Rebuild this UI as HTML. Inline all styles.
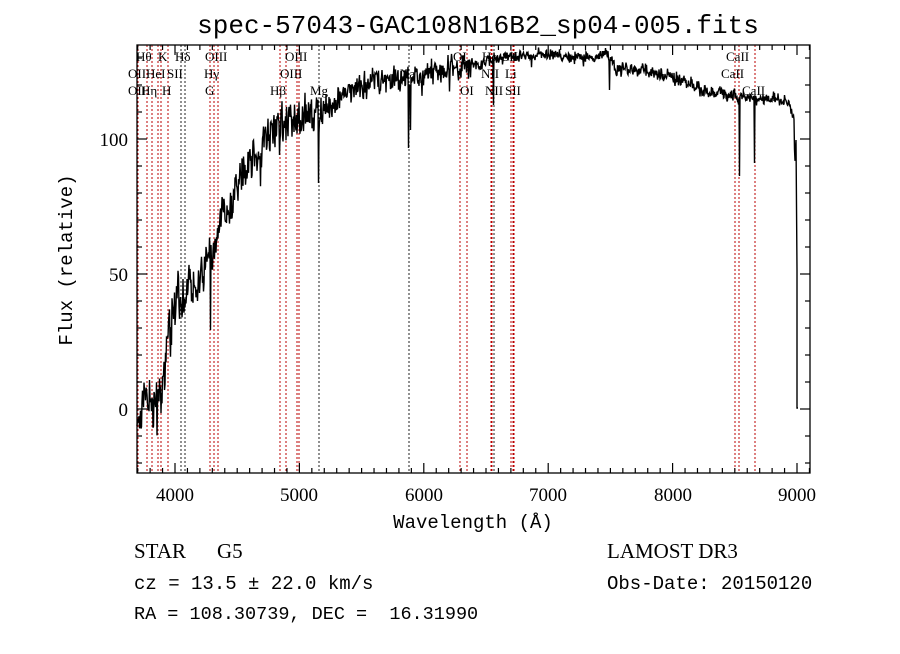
<!DOCTYPE html>
<html><head><meta charset="utf-8"><style>
body{margin:0;background:#fff;width:900px;height:649px;overflow:hidden}
svg text{font-family:"Liberation Serif",serif;fill:#000}
svg text.m{font-family:"Liberation Mono",monospace}
</style></head><body>
<svg id="s" width="900" height="649" xmlns="http://www.w3.org/2000/svg">
<text class="m" x="478" y="33" font-size="26" text-anchor="middle">spec-57043-GAC108N16B2_sp04-005.fits</text>
<g id="lines"></g>
<polyline id="spec" fill="none" stroke="#000" stroke-width="1.4"/>
<rect x="137" y="45" width="673" height="428" fill="none" stroke="#000" stroke-width="1.3"/>
<g id="ticks" stroke="#000" stroke-width="1.2"></g>
<g font-size="19" text-anchor="middle">
<text x="175" y="501">4000</text><text x="299" y="501">5000</text><text x="424" y="501">6000</text><text x="548" y="501">7000</text><text x="673" y="501">8000</text><text x="797" y="501">9000</text>
</g>
<g font-size="19" text-anchor="end">
<text x="128" y="146">100</text><text x="128" y="281">50</text><text x="128" y="416">0</text>
</g>
<text class="m" x="473" y="528" font-size="19" text-anchor="middle">Wavelength (Å)</text>
<text class="m" transform="translate(72,260) rotate(-90)" font-size="19" text-anchor="middle">Flux (relative)</text>
<g font-size="13">
<text x="136" y="61">Hθ</text><text x="158" y="61">K</text><text x="175" y="61">Hδ</text><text x="205" y="61">OIII</text><text x="285" y="61">OIII</text>
<text x="128" y="78">OII</text><text x="146" y="78">HeI</text><text x="167" y="78">SII</text><text x="204" y="78">Hγ</text><text x="280" y="78">OIII</text>
<text x="128" y="95">OII</text><text x="141" y="95">Hη</text><text x="162" y="95">H</text><text x="205" y="95">G</text><text x="270" y="95">Hβ</text><text x="310" y="95">Mg</text><text x="400" y="78">Na</text>
<text x="453" y="61">OI</text><text x="482" y="61">Hα</text><text x="502" y="61">SII</text><text x="481" y="78">NII</text><text x="505" y="78">Li</text>
<text x="460" y="95">OI</text><text x="485" y="95">NII</text><text x="505" y="95">SII</text>
<text x="726" y="61">CaII</text><text x="721" y="78">CaII</text><text x="742" y="95">CaII</text>
</g>
<text x="134" y="558" font-size="21">STAR</text><text x="217" y="558" font-size="21">G5</text>
<text x="607" y="558" font-size="21">LAMOST DR3</text>
<text class="m" x="134" y="589" font-size="19">cz = 13.5 ± 22.0 km/s</text>
<text class="m" x="134" y="619" font-size="18.5" xml:space="preserve">RA = 108.30739, DEC =  16.31990</text>
<text class="m" x="607" y="589" font-size="19">Obs-Date: 20150120</text>
</svg>
<script>
var NS="http://www.w3.org/2000/svg";
function el(t,a,p){var e=document.createElementNS(NS,t);for(var k in a)e.setAttribute(k,a[k]);document.getElementById(p).appendChild(e);}
var red=[138,147,152,158,161,168,210,214,218,280,286,297,299,460,467,491,492,511,513,514,735,739,755];
var blk=[181,185,319,409,494];
red.forEach(function(x){el('line',{x1:x,x2:x,y1:45,y2:473,stroke:'#b00',"stroke-width":1,"stroke-dasharray":"2,2"},'lines')});
blk.forEach(function(x){el('line',{x1:x,x2:x,y1:45,y2:473,stroke:'#222',"stroke-width":1,"stroke-dasharray":"2,2"},'lines')});
for(var l=3700;l<=9100;l+=100){var x=175+(l-4000)*0.1244;if(x<137||x>810)continue;var L=(l%1000==0)?10:5;
el('line',{x1:x,x2:x,y1:473,y2:473-L},'ticks');el('line',{x1:x,x2:x,y1:45,y2:45+L},'ticks');}
for(var f=-20;f<=130;f+=10){var y=409-2.7*f;var L=(f%50==0)?10:5;
el('line',{x1:137,x2:137+L,y1:y,y2:y},'ticks');el('line',{x1:810,x2:810-L,y1:y,y2:y},'ticks');}
var A=[[137,425],[145,395],[152,410],[158,395],[163,380],[167,340],[172,310],[178,300],[185,290],[195,292],[205,270],[212,250],[220,220],[230,200],[240,180],[255,155],[270,135],[285,122],[300,118],[318,112],[330,105],[345,92],[360,85],[380,80],[400,78],[420,72],[440,70],[470,66],[500,58],[530,54],[560,56],[600,58],[605,52],[615,68],[650,72],[680,80],[700,88],[720,94],[735,96],[750,98],[770,100],[790,102],[794,120],[797,260],[797,408]];
function base(x){for(var i=0;i<A.length-1;i++){if(x<=A[i+1][0]&&x>=A[i][0]){var t=(x-A[i][0])/((A[i+1][0]-A[i][0])||1);return A[i][1]+t*(A[i+1][1]-A[i][1]);}}return 408;}
var seed=7;function rnd(){seed=(seed*16807)%2147483647;return seed/2147483647;}
var dips={409:148,319:183,740:176,755:163,610:90,280:155,211:330,494:105,411:130,172:345,150:380};
var pts=[],w=0;
for(var x=137;x<=795;x+=0.5){var amp=x<200?22:(x<330?20:(x<470?13:(x<620?6:7)));
w=w*0.4+(rnd()-0.5)*amp;var y=base(x)+w+(rnd()-0.5)*amp*1.3;
if(rnd()<0.03)y+=(rnd()-0.3)*amp*1.8;
var xi=Math.round(x);if(dips[xi]){y=dips[xi];delete dips[xi];}pts.push(x.toFixed(1)+","+y.toFixed(1));}
pts.push("796,140");pts.push("797,270");pts.push("797,300");pts.push("797,408");pts.push("798,408");
document.getElementById('spec').setAttribute('points',pts.join(' '));
</script>
</body></html>
